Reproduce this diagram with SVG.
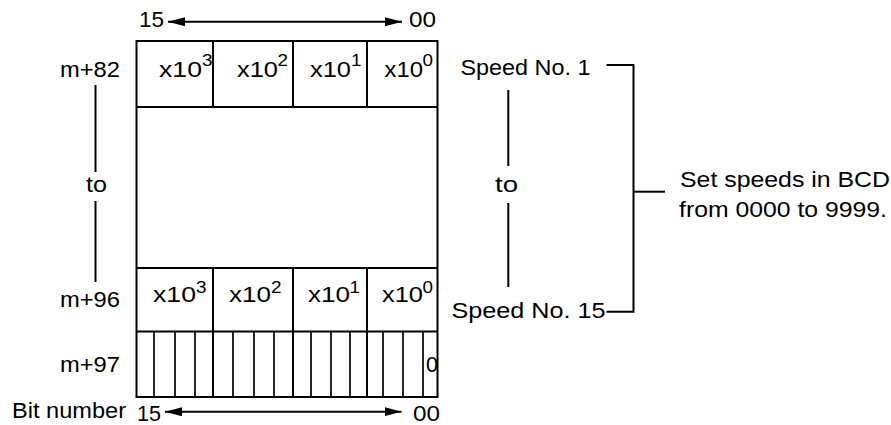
<svg xmlns="http://www.w3.org/2000/svg" width="891" height="425" viewBox="0 0 891 425">
<style>
text{font-family:"Liberation Sans",Arial,sans-serif;font-size:22px;fill:#000}
.sup{font-size:17px}
.ln{stroke:#000;stroke-width:2;fill:none}
.thin{stroke:#000;stroke-width:1.7;fill:none}
</style>
<defs>
<marker id="ah" markerUnits="userSpaceOnUse" markerWidth="18" markerHeight="10" refX="17" refY="5" orient="auto-start-reverse">
<path d="M0,0.5 L17,5 L0,9.5 Z" fill="#000"/>
</marker>
</defs>
<rect width="891" height="425" fill="#fff"/>

<g id="register-table">
<rect class="ln" x="136.5" y="41" width="301" height="356"/>
<line class="ln" x1="136.5" y1="107" x2="437.5" y2="107"/>
<line class="ln" x1="136.5" y1="268" x2="437.5" y2="268"/>
<line class="ln" x1="136.5" y1="331.5" x2="437.5" y2="331.5"/>
<line class="ln" x1="213" y1="41" x2="213" y2="107"/>
<line class="ln" x1="293" y1="41" x2="293" y2="107"/>
<line class="ln" x1="367" y1="41" x2="367" y2="107"/>
<line class="ln" x1="213" y1="268" x2="213" y2="397"/>
<line class="ln" x1="293" y1="268" x2="293" y2="397"/>
<line class="ln" x1="367" y1="268" x2="367" y2="397"/>
<g class="thin">
<line x1="154" y1="331.5" x2="154" y2="397"/>
<line x1="175" y1="331.5" x2="175" y2="397"/>
<line x1="195" y1="331.5" x2="195" y2="397"/>
<line x1="233" y1="331.5" x2="233" y2="397"/>
<line x1="254" y1="331.5" x2="254" y2="397"/>
<line x1="274" y1="331.5" x2="274" y2="397"/>
<line x1="311" y1="331.5" x2="311" y2="397"/>
<line x1="331" y1="331.5" x2="331" y2="397"/>
<line x1="350" y1="331.5" x2="350" y2="397"/>
<line x1="383" y1="331.5" x2="383" y2="397"/>
<line x1="403" y1="331.5" x2="403" y2="397"/>
<line x1="423" y1="331.5" x2="423" y2="397"/>
</g>
</g>

<g id="row-m82-cells">
<text x="159" y="76.5" textLength="43" lengthAdjust="spacingAndGlyphs">x10</text><text class="sup" x="202" y="66" textLength="10.5" lengthAdjust="spacingAndGlyphs">3</text>
<text x="237" y="76.5" textLength="41" lengthAdjust="spacingAndGlyphs">x10</text><text class="sup" x="277.5" y="66" textLength="10.5" lengthAdjust="spacingAndGlyphs">2</text>
<text x="310" y="76.5" textLength="41" lengthAdjust="spacingAndGlyphs">x10</text><text class="sup" x="351" y="66" textLength="10.5" lengthAdjust="spacingAndGlyphs">1</text>
<text x="384.5" y="76.5" textLength="38.5" lengthAdjust="spacingAndGlyphs">x10</text><text class="sup" x="422.5" y="66" textLength="10.5" lengthAdjust="spacingAndGlyphs">0</text>
</g>

<g id="row-m96-cells">
<text x="153" y="302" textLength="43" lengthAdjust="spacingAndGlyphs">x10</text><text class="sup" x="196" y="292.5" textLength="10.5" lengthAdjust="spacingAndGlyphs">3</text>
<text x="229" y="302" textLength="42" lengthAdjust="spacingAndGlyphs">x10</text><text class="sup" x="271" y="292.5" textLength="10.5" lengthAdjust="spacingAndGlyphs">2</text>
<text x="308" y="302" textLength="42" lengthAdjust="spacingAndGlyphs">x10</text><text class="sup" x="349.5" y="292.5" textLength="10.5" lengthAdjust="spacingAndGlyphs">1</text>
<text x="382" y="302" textLength="41" lengthAdjust="spacingAndGlyphs">x10</text><text class="sup" x="422.5" y="292.5" textLength="10.5" lengthAdjust="spacingAndGlyphs">0</text>
</g>

<g id="row-m97-cells">
<text x="426" y="371.5" textLength="12" lengthAdjust="spacingAndGlyphs">0</text>
</g>

<g id="left-labels">
<text x="60" y="77" textLength="60" lengthAdjust="spacingAndGlyphs">m+82</text>
<text x="86" y="192" textLength="21" lengthAdjust="spacingAndGlyphs">to</text>
<text x="60" y="306.5" textLength="60" lengthAdjust="spacingAndGlyphs">m+96</text>
<text x="60" y="371.5" textLength="60" lengthAdjust="spacingAndGlyphs">m+97</text>
<text x="12" y="418" textLength="114" lengthAdjust="spacingAndGlyphs">Bit number</text>
</g>

<g id="bit-labels">
<text x="139" y="26.5" textLength="25" lengthAdjust="spacingAndGlyphs">15</text>
<text x="409" y="26.5" textLength="27" lengthAdjust="spacingAndGlyphs">00</text>
<text x="137" y="420.5" textLength="24" lengthAdjust="spacingAndGlyphs">15</text>
<text x="413" y="421" textLength="27" lengthAdjust="spacingAndGlyphs">00</text>
</g>

<g id="right-labels">
<text x="460.5" y="75" textLength="130" lengthAdjust="spacingAndGlyphs">Speed No. 1</text>
<text x="495" y="192" textLength="23" lengthAdjust="spacingAndGlyphs">to</text>
<text x="451.5" y="318" textLength="154" lengthAdjust="spacingAndGlyphs">Speed No. 15</text>
</g>

<g id="note">
<text x="680" y="186.5" textLength="210" lengthAdjust="spacingAndGlyphs">Set speeds in BCD</text>
<text x="679" y="216.5" textLength="208" lengthAdjust="spacingAndGlyphs">from 0000 to 9999.</text>
</g>

<g id="connectors">
<line class="ln" x1="168" y1="21.7" x2="402" y2="21.7" marker-start="url(#ah)" marker-end="url(#ah)"/>
<line class="ln" x1="165" y1="411.7" x2="401.5" y2="411.7" marker-start="url(#ah)" marker-end="url(#ah)"/>
<line class="ln" x1="95.5" y1="85" x2="95.5" y2="172"/>
<line class="ln" x1="95.5" y1="201" x2="95.5" y2="282"/>
<line class="ln" x1="508.3" y1="90" x2="508.3" y2="166"/>
<line class="ln" x1="508.3" y1="203" x2="508.3" y2="287"/>
<polyline class="ln" points="606.5,65 633.5,65 633.5,311.7 606.5,311.7"/>
<line class="ln" x1="633.5" y1="191.7" x2="665" y2="191.7"/>
</g>
</svg>
